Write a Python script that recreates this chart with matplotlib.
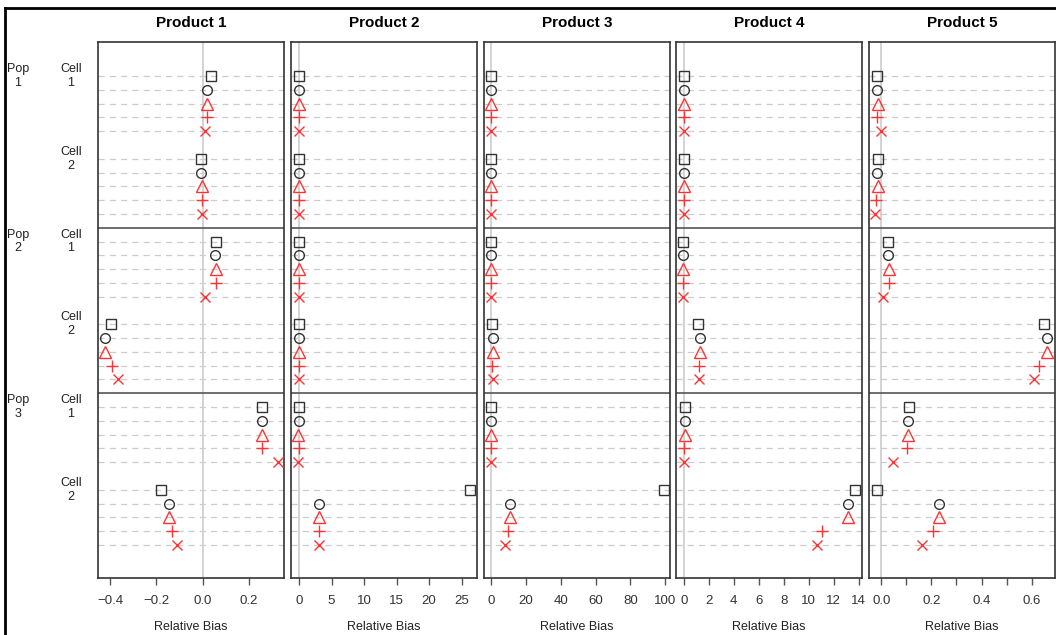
import matplotlib
matplotlib.use("Agg")
import matplotlib.pyplot as plt
import matplotlib.transforms as mtransforms
from matplotlib.lines import Line2D
import numpy as np

plt.rcParams["font.family"] = ["Liberation Sans", "DejaVu Sans"]

products = ["Product 1", "Product 2", "Product 3", "Product 4", "Product 5"]
pops = ["Pop\n1", "Pop\n2", "Pop\n3"]
cells = ["Cell\n1", "Cell\n2"]

# Rows: Pop1 Cell1, Pop1 Cell2, Pop2 Cell1, Pop2 Cell2, Pop3 Cell1, Pop3 Cell2
# values per product: [square, circle, triangle, plus, x] for each row
p1_vals = [
    [0.035, 0.017, 0.017, 0.017, 0.009],
    [-0.009, -0.009, -0.004, -0.004, -0.004],
    [0.059, 0.053, 0.056, 0.056, 0.010],
    [-0.397, -0.423, -0.420, -0.392, -0.366],
    [0.256, 0.255, 0.258, 0.256, 0.323],
    [-0.181, -0.147, -0.147, -0.133, -0.109],
]
p2_vals = [
    [0.0, 0.0, 0.0, 0.0, 0.0],
    [0.0, 0.0, 0.0, 0.0, 0.0],
    [0.0, 0.0, 0.0, 0.0, 0.0],
    [0.05, 0.05, 0.0, 0.0, 0.0],
    [0.0, 0.0, -0.1, 0.0, -0.1],
    [26.3, 3.1, 3.1, 3.1, 3.1],
]
p3_vals = [
    [0.0, 0.0, 0.0, 0.0, 0.0],
    [0.0, 0.0, 0.0, 0.0, 0.0],
    [0.0, 0.0, 0.0, 0.0, 0.0],
    [0.8, 1.0, 1.2, 0.8, 1.2],
    [0.0, 0.0, 0.0, 0.0, 0.0],
    [99.0, 10.8, 10.8, 9.6, 8.3],
]
p4_vals = [
    [0.0, 0.0, 0.0, 0.0, 0.0],
    [0.05, 0.05, 0.05, 0.0, 0.0],
    [-0.08, -0.08, -0.05, -0.1, -0.05],
    [1.14, 1.3, 1.3, 1.25, 1.25],
    [0.1, 0.1, 0.1, 0.05, 0.05],
    [13.7, 13.1, 13.1, 11.04, 10.67],
]
p5_vals = [
    [-0.016, -0.016, -0.012, -0.018, 0.0],
    [-0.014, -0.016, -0.013, -0.020, -0.025],
    [0.028, 0.028, 0.030, 0.031, 0.008],
    [0.649, 0.661, 0.662, 0.629, 0.610],
    [0.109, 0.106, 0.106, 0.104, 0.045],
    [-0.017, 0.231, 0.231, 0.207, 0.163],
]
all_vals = [p1_vals, p2_vals, p3_vals, p4_vals, p5_vals]

xlims = [(-0.452, 0.351), (-1.23, 27.35), (-4.0, 102.7), (-0.62, 14.26), (-0.049, 0.693)]
major_ticks = [
    [-0.4, -0.2, 0.0, 0.2],
    [0, 5, 10, 15, 20, 25],
    [0, 20, 40, 60, 80, 100],
    [0, 2, 4, 6, 8, 10, 12, 14],
    [0.0, 0.2, 0.4, 0.6],
]
tick_labels = [
    ["\u22120.4", "\u22120.2", "0.0", "0.2"],
    ["0", "5", "10", "15", "20", "25"],
    ["0", "20", "40", "60", "80", "100"],
    ["0", "2", "4", "6", "8", "10", "12", "14"],
    ["0.0", "0.2", "0.4", "0.6"],
]
minor_ticks = [[], [], [], [], [0.1, 0.3, 0.5]]

markers = ["s", "o", "^", "+", "x"]
colors = ["#333333", "#333333", "#ff3333", "#ff3333", "#ff3333"]
msizes = [7, 7, 8.5, 9, 7]

W, H = 1056, 635
fig = plt.figure(figsize=(W / 100, H / 100), dpi=100)

lefts = [98, 291, 484, 676, 869]
width = 186
top, bottom = 42, 578

row_starts = [0, 6, 12, 18, 24, 30]
axes = []
for j in range(5):
    ax = fig.add_axes([lefts[j] / W, (H - bottom) / H, width / W, (bottom - top) / H])
    axes.append(ax)
    ax.set_ylim(36.4, -2.47)
    ax.set_xlim(*xlims[j])
    ax.axvline(0, color="#cccccc", lw=1.2, zorder=1)
    for r, start in enumerate(row_starts):
        vals = all_vals[j][r]
        for k in range(5):
            y = start + k
            ax.axhline(y, color="#cccccc", lw=0.9, ls=(0, (5, 4)), zorder=0)
            if markers[k] in ("+", "x"):
                ax.plot(vals[k], y, marker=markers[k], color=colors[k], ms=msizes[k],
                        mew=1.0, ls="none", zorder=3)
            else:
                ax.plot(vals[k], y, marker=markers[k], mec=colors[k], mfc="none",
                        ms=msizes[k], mew=1.0, ls="none", zorder=3)
    for ysep in (11, 23):
        ax.axhline(ysep, color="#555555", lw=1.2, zorder=2)
    ax.set_yticks([])
    ax.set_xticks(major_ticks[j])
    ax.set_xticklabels(tick_labels[j])
    if minor_ticks[j]:
        ax.set_xticks(minor_ticks[j], minor=True)
    ax.tick_params(axis="x", which="both", direction="out", length=5, width=1,
                   color="#555555", labelcolor="#333333", labelsize=9.5, pad=7)
    for s in ax.spines.values():
        s.set_color("#333333")
        s.set_linewidth(1.2)
    ax.set_xlabel("Relative Bias", fontsize=9, color="#222222", labelpad=10)
    ax.set_title(products[j], fontsize=11, fontweight="bold", pad=11)

trans = mtransforms.blended_transform_factory(fig.transFigure, axes[0].transData)
for p in range(3):
    axes[0].text(18 / W, row_starts[2 * p], pops[p], transform=trans, ha="center",
                 va="center", fontsize=9, color="#222222", linespacing=1.2)
    for c in range(2):
        axes[0].text(71 / W, row_starts[2 * p + c], cells[c], transform=trans, ha="center",
                     va="center", fontsize=9, color="#222222", linespacing=1.2)

# outer frame (left and top edges)
fig.add_artist(Line2D([5 / W, 5 / W], [0, 1 - 8 / H], transform=fig.transFigure,
                      color="black", lw=2))
fig.add_artist(Line2D([5 / W, 1], [1 - 8 / H, 1 - 8 / H], transform=fig.transFigure,
                      color="black", lw=2))

fig.savefig("out.png", dpi=100)
